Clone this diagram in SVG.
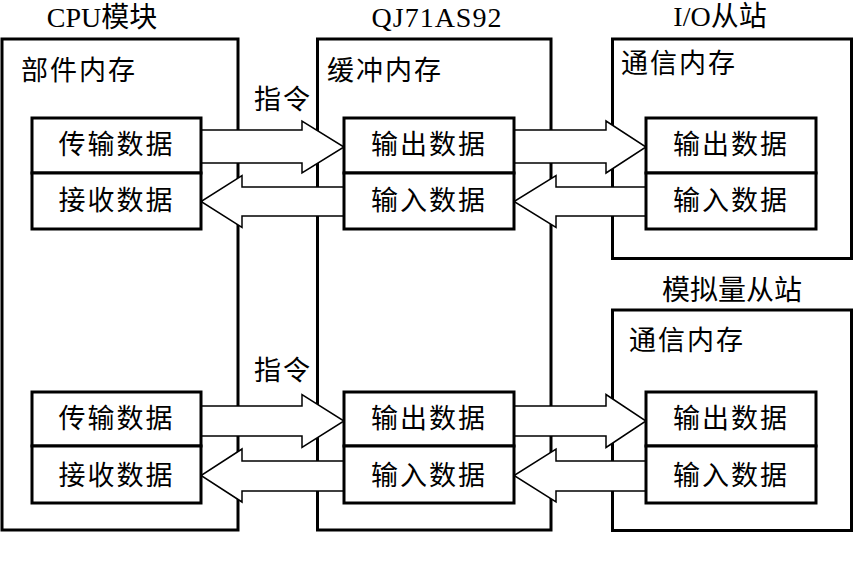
<svg xmlns="http://www.w3.org/2000/svg" width="853" height="564" viewBox="0 0 853 564">
<style>
.box{fill:#fff;stroke:#000;stroke-width:3}
.inner{fill:#fff;stroke:#000;stroke-width:3}
.arr{fill:#fff;stroke:#000;stroke-width:1.5;stroke-linejoin:miter}
text{font-family:"Liberation Serif","Noto Sans CJK SC",serif;fill:#000}
.hd{font-size:28px}
.lb{font-size:27px;letter-spacing:2px}
.c{text-anchor:middle}
</style>
<rect width="853" height="564" fill="#fff"/>
<g id="cpu">
<rect class="box" x="2" y="39" width="236" height="491"/>
<text class="hd c" x="102" y="27">CPU模块</text>
<text class="lb" x="21" y="80">部件内存</text>
</g>
<g id="qj71as92">
<rect class="box" x="317.5" y="39" width="233.5" height="491"/>
<text class="hd c" x="437" y="27" letter-spacing="1">QJ71AS92</text>
<text class="lb" x="327" y="80">缓冲内存</text>
</g>
<g id="io-slave">
<rect class="box" x="612.5" y="39" width="239" height="219.5"/>
<text class="hd c" x="720" y="26">I/O从站</text>
<text class="lb" x="621" y="73">通信内存</text>
</g>
<g id="analog-slave">
<rect class="box" x="612.5" y="310" width="239" height="220.5"/>
<text class="hd c" x="732" y="300">模拟量从站</text>
<text class="lb" x="629" y="350">通信内存</text>
</g>
<g id="connectors">
<path class="arr" d="M201,130 H302 V121 L344,147 L302,173 V163 H201"/>
<path class="arr" d="M344,187 H242 V175.5 L201,201.5 L242,227.5 V216 H344"/>
<path class="arr" d="M514,130 H606 V121 L646,147 L606,173 V163 H514"/>
<path class="arr" d="M646,187 H556 V175.5 L514,201.5 L556,227.5 V216 H646"/>
<path class="arr" d="M201,406 H302 V394.5 L344,421 L302,447.5 V436 H201"/>
<path class="arr" d="M344,461 H242 V449 L201,475.5 L242,502 V491 H344"/>
<path class="arr" d="M514,406 H606 V394.5 L646,421 L606,447.5 V436 H514"/>
<path class="arr" d="M646,461 H556 V449 L514,475.5 L556,502 V491 H646"/>
<text class="lb c" x="283" y="109">指令</text>
<text class="lb c" x="283" y="380">指令</text>
</g>
<g id="cpu-send-1"><rect class="inner" x="32" y="118" width="169" height="55"/><text class="lb c" x="116.5" y="154">传输数据</text></g>
<g id="cpu-recv-1"><rect class="inner" x="32" y="173" width="169" height="56"/><text class="lb c" x="116.5" y="210">接收数据</text></g>
<g id="qj-out-1"><rect class="inner" x="344" y="118" width="170" height="55"/><text class="lb c" x="429" y="154">输出数据</text></g>
<g id="qj-in-1"><rect class="inner" x="344" y="173" width="170" height="56"/><text class="lb c" x="429" y="210">输入数据</text></g>
<g id="io-out"><rect class="inner" x="646" y="118" width="170" height="55"/><text class="lb c" x="731" y="154">输出数据</text></g>
<g id="io-in"><rect class="inner" x="646" y="173" width="170" height="56"/><text class="lb c" x="731" y="210">输入数据</text></g>
<g id="cpu-send-2"><rect class="inner" x="32" y="392" width="169" height="54"/><text class="lb c" x="116.5" y="428">传输数据</text></g>
<g id="cpu-recv-2"><rect class="inner" x="32" y="446" width="169" height="57"/><text class="lb c" x="116.5" y="485">接收数据</text></g>
<g id="qj-out-2"><rect class="inner" x="344" y="392" width="170" height="54"/><text class="lb c" x="429" y="428">输出数据</text></g>
<g id="qj-in-2"><rect class="inner" x="344" y="446" width="170" height="57"/><text class="lb c" x="429" y="485">输入数据</text></g>
<g id="an-out"><rect class="inner" x="646" y="392" width="170" height="54"/><text class="lb c" x="731" y="428">输出数据</text></g>
<g id="an-in"><rect class="inner" x="646" y="446" width="170" height="57"/><text class="lb c" x="731" y="485">输入数据</text></g>
</svg>
